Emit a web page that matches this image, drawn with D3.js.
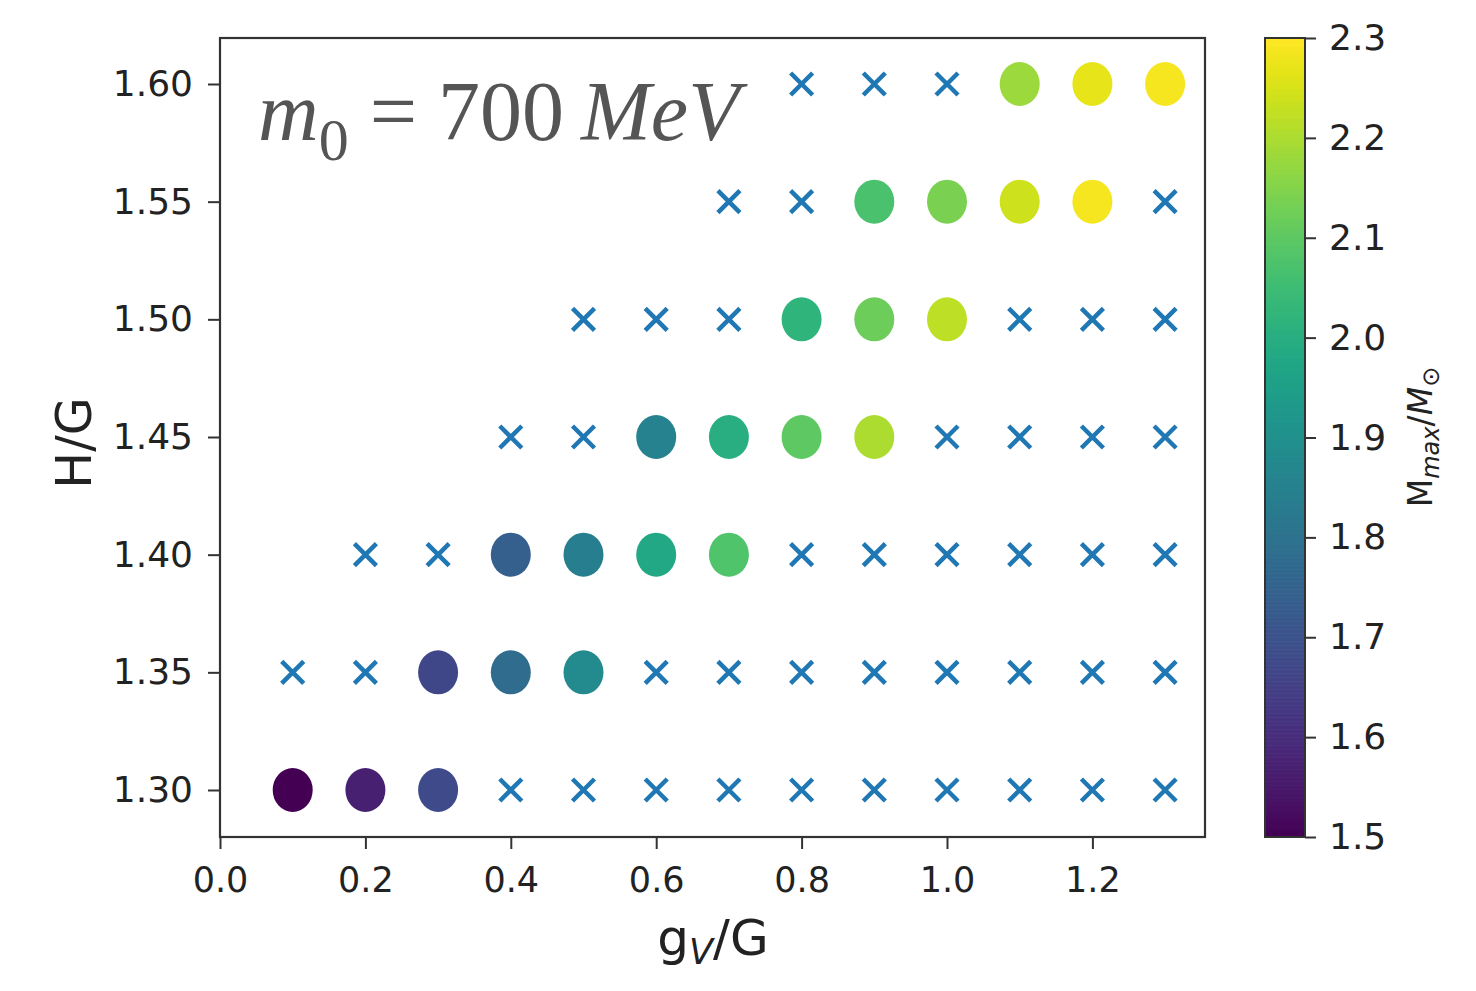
<!DOCTYPE html>
<html><head><meta charset="utf-8">
<script src="https://cdn.jsdelivr.net/npm/d3@7"></script>
<style>body{margin:0;background:#fff}svg{display:block}</style>
</head><body>
<svg id="c" width="1476" height="991"></svg>
<script>
// gV/G positions (columns)
const gV = [0.1,0.2,0.3,0.4,0.5,0.6,0.7,0.8,0.9,1.0,1.1,1.2,1.3];
// H/G rows
const HG = [1.30,1.35,1.40,1.45,1.50,1.55,1.60];
// M_max/M_sun per row: number = stable star (circle), "x" = excluded (cross), null = not computed
const row130 = [1.50,1.57,1.68,"x","x","x","x","x","x","x","x","x","x"];
const row135 = ["x","x",1.67,1.78,1.88,"x","x","x","x","x","x","x","x"];
const row140 = [null,"x","x",1.74,1.84,1.98,2.08,"x","x","x","x","x","x"];
const row145 = [null,null,null,"x","x",1.85,2.00,2.10,2.20,"x","x","x","x"];
const row150 = [null,null,null,null,"x","x","x",2.02,2.12,2.22,"x","x","x"];
const row155 = [null,null,null,null,null,null,"x","x",2.07,2.14,2.24,2.29,"x"];
const row160 = [null,null,null,null,null,null,null,"x","x","x",2.18,2.27,2.29];
const rows = [row130,row135,row140,row145,row150,row155,row160];
const xTicks = [0.0,0.2,0.4,0.6,0.8,1.0,1.2];
const yTicks = [1.30,1.35,1.40,1.45,1.50,1.55,1.60];
const cTicks = [1.5,1.6,1.7,1.8,1.9,2.0,2.1,2.2,2.3];

const svg = d3.select("#c");
const L=220,R=1205,T=38,B=837;
const x = d3.scaleLinear().domain([0,1.3]).range([220,220+13*72.7]);
const y = d3.scaleLinear().domain([1.30,1.60]).range([790,84]);
const cmin=1.5,cmax=2.3;
const color = d3.scaleSequential(d3.interpolateViridis).domain([cmin,cmax]);
const axisCol="#333", txtCol="#222";
const font="DejaVu Sans, sans-serif";

// points
const pts=[];
rows.forEach((r,i)=>r.forEach((v,j)=>{ if(v!==null) pts.push({g:gV[j],h:HG[i],v}); }));

svg.append("g").selectAll("ellipse").data(pts.filter(d=>d.v!=="x")).join("ellipse")
  .attr("cx",d=>x(d.g)).attr("cy",d=>y(d.h)).attr("rx",20).attr("ry",22)
  .attr("fill",d=>color(d.v));
const cs=11;
svg.append("g").selectAll("path").data(pts.filter(d=>d.v==="x")).join("path")
  .attr("d",d=>{const cx=x(d.g),cy=y(d.h);return `M${cx-cs},${cy-cs}L${cx+cs},${cy+cs}M${cx-cs},${cy+cs}L${cx+cs},${cy-cs}`;})
  .attr("stroke","#1f77b4").attr("stroke-width",4.5).attr("fill","none");

// frame
svg.append("rect").attr("x",L).attr("y",T).attr("width",R-L).attr("height",B-T)
  .attr("fill","none").attr("stroke",axisCol).attr("stroke-width",2.2);

// x axis
const xa=svg.append("g").attr("transform",`translate(0,${B})`)
  .call(d3.axisBottom(x).tickValues(xTicks).tickFormat(d3.format(".1f")).tickSize(12).tickPadding(18));
xa.select(".domain").remove();
xa.selectAll("line").attr("stroke",axisCol).attr("stroke-width",2);
xa.selectAll("text").attr("font-family",font).attr("font-size",35).attr("fill",txtCol);
// y axis
const ya=svg.append("g").attr("transform",`translate(${L},0)`)
  .call(d3.axisLeft(y).tickValues(yTicks).tickFormat(d3.format(".2f")).tickSize(12).tickPadding(15));
ya.select(".domain").remove();
ya.selectAll("line").attr("stroke",axisCol).attr("stroke-width",2);
ya.selectAll("text").attr("font-family",font).attr("font-size",36).attr("fill",txtCol);

// axis labels
const xl=svg.append("text").attr("x",713).attr("y",955).attr("text-anchor","middle")
  .attr("font-family",font).attr("font-size",50).attr("fill",txtCol);
xl.append("tspan").text("g");
xl.append("tspan").attr("font-size",35).attr("font-style","italic").attr("dy",9).text("V");
xl.append("tspan").attr("dy",-9).text("/G");
svg.append("text").attr("transform","translate(91,443) rotate(-90)").attr("text-anchor","middle")
  .attr("font-family",font).attr("font-size",49).attr("fill",txtCol).text("H/G");

// annotation
const an=svg.append("text").attr("x",258).attr("y",140).attr("font-family","Liberation Serif, Times New Roman, serif")
  .attr("font-size",84).attr("fill","#555");
an.append("tspan").attr("font-style","italic").text("m");
an.append("tspan").attr("font-size",60).attr("dy",20).text("0");
an.append("tspan").attr("dy",-20).text(" = 700\u2009");
an.append("tspan").attr("font-style","italic").text("MeV");

// colorbar
const cbX=1265,cbW=40;
const cy=d3.scaleLinear().domain([cmin,cmax]).range([B,T]);
const steps=d3.range(0,200);
svg.append("g").selectAll("rect").data(steps).join("rect")
  .attr("x",cbX).attr("width",cbW)
  .attr("y",i=>cy(cmin+(i+1)*(cmax-cmin)/200))
  .attr("height",i=>cy(cmin+i*(cmax-cmin)/200)-cy(cmin+(i+1)*(cmax-cmin)/200)+0.6)
  .attr("fill",i=>color(cmin+(i+0.5)*(cmax-cmin)/200));
svg.append("rect").attr("x",cbX).attr("y",T).attr("width",cbW).attr("height",B-T)
  .attr("fill","none").attr("stroke",axisCol).attr("stroke-width",2);
const ca=svg.append("g").attr("transform",`translate(${cbX+cbW},0)`)
  .call(d3.axisRight(cy).tickValues(cTicks).tickFormat(d3.format(".1f")).tickSize(11).tickPadding(13));
ca.select(".domain").remove();
ca.selectAll("line").attr("stroke",axisCol).attr("stroke-width",2);
ca.selectAll("text").attr("font-family",font).attr("font-size",36).attr("fill",txtCol);
const cl=svg.append("text").attr("transform","translate(1432,437) rotate(-90)").attr("text-anchor","middle")
  .attr("font-family",font).attr("font-size",33).attr("fill",txtCol);
cl.append("tspan").text("M");
cl.append("tspan").attr("font-size",24).attr("font-style","italic").attr("dy",7).text("max");
cl.append("tspan").attr("dy",-7).text("/");
cl.append("tspan").attr("font-style","italic").text("M");
cl.append("tspan").attr("font-size",24).attr("dy",7).text("\u2299");
</script>
</body></html>
